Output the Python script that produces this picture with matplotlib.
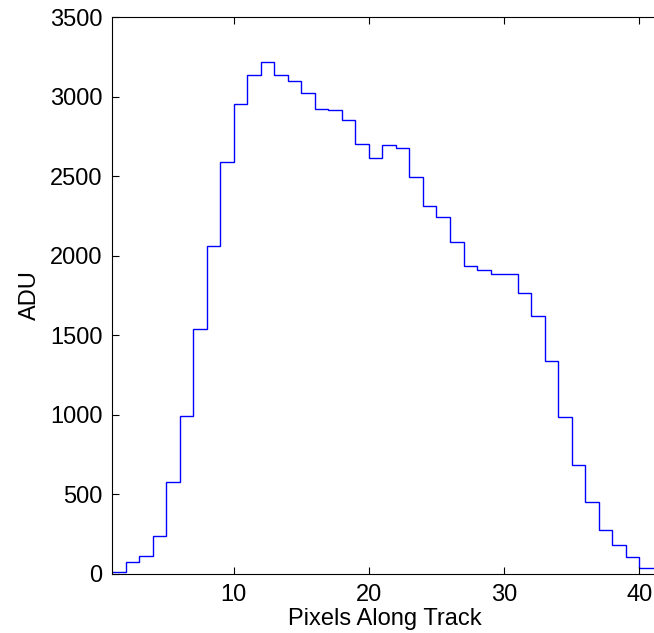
import matplotlib
matplotlib.use("Agg")
import matplotlib.pyplot as plt
import numpy as np

plt.rcParams['font.family'] = ['Liberation Sans', 'DejaVu Sans']

# Pixel positions (left edges of each step) and ADU values
pixels = list(range(1, 41))
adu = [15, 74, 115, 241, 579, 990, 1537, 2060, 2591, 2952,
       3134, 3218, 3134, 3098, 3023, 2925, 2914, 2855, 2700, 2612,
       2693, 2679, 2494, 2312, 2242, 2089, 1934, 1913, 1882, 1882,
       1764, 1619, 1338, 984, 684, 451, 275, 183, 109, 40]
xticks = [10, 20, 30, 40]
yticks = [0, 500, 1000, 1500, 2000, 2500, 3000, 3500]

fig = plt.figure(figsize=(6.54, 6.33), dpi=100)
# the right edge of the axes lies just past the picture's edge, as in the reference
ax = fig.add_axes([112/654, 1-574/633, (657-112)/654, (574-17)/633])

edges = np.append(np.array(pixels, dtype=float), pixels[-1] + 1.3)
ax.stairs(adu, edges, color='#0000ff', linewidth=1.0, baseline=None)

ax.set_xlim(1, 1 + (657-112)/13.52)
ax.set_ylim(0, 3500)
ax.set_xticks(xticks)
ax.set_yticks(yticks)
ax.tick_params(direction='in', length=5, width=0.8, labelsize=17,
               top=True, right=False, pad=7)
for s in ax.spines.values():
    s.set_linewidth(0.8)
ax.spines['right'].set_visible(False)
ax.set_xlabel('Pixels Along Track', fontsize=17, labelpad=2)
ax.set_ylabel('ADU', fontsize=17, labelpad=6)

fig.savefig('out.png', dpi=100)
